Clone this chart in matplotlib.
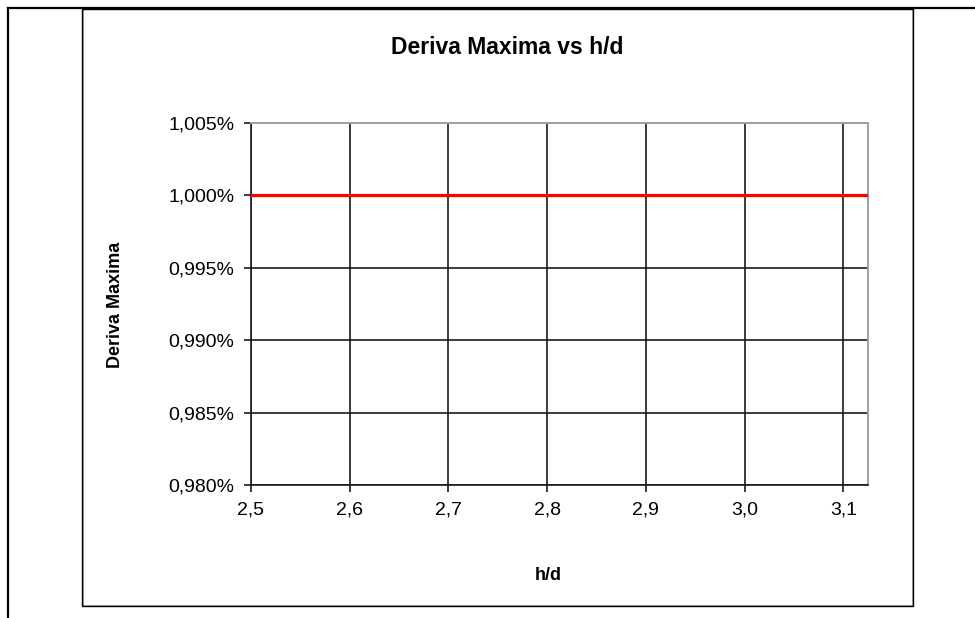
import matplotlib
matplotlib.use("Agg")
import matplotlib.pyplot as plt
from matplotlib.patches import Rectangle
from matplotlib.lines import Line2D
from matplotlib.ticker import FuncFormatter

plt.rcParams['font.family'] = ['Liberation Sans', 'DejaVu Sans']

## DATA
hd = [2.5, 2.6, 2.7, 2.8, 2.9, 3.0, 3.1, 3.125]
deriva = [1.000, 1.000, 1.000, 1.000, 1.000, 1.000, 1.000, 1.000]
x_ticks = [2.5, 2.6, 2.7, 2.8, 2.9, 3.0, 3.1]
y_ticks = [0.980, 0.985, 0.990, 0.995, 1.000, 1.005]

W, H = 975, 618
fig = plt.figure(figsize=(W / 100, H / 100), dpi=100)

# spreadsheet cell borders
fig.add_artist(Line2D([8 / W, 1], [1 - 8 / H, 1 - 8 / H], color='black', lw=1.6))
fig.add_artist(Line2D([8 / W, 8 / W], [0, 1 - 8 / H], color='black', lw=1.6))

# chart box with grey shadow
fig.add_artist(Rectangle((83 / W, 1 - 606 / H), (913 - 83) / W, (606 - 9) / H,
                         fill=False, edgecolor='#a0a0a0', lw=1.2))
fig.add_artist(Rectangle((82 / W, 1 - 606 / H), (913 - 82) / W, (606 - 9) / H,
                         fill=False, edgecolor='black', lw=1.0))

ax = fig.add_axes([251 / W, 1 - 485 / H, (868 - 251) / W, (485 - 123) / H])
ax.plot(hd, deriva, color='#ff0000', lw=2.3, zorder=3)

ax.set_xlim(2.5, 3.125)
ax.set_ylim(0.980, 1.005)
ax.set_xticks(x_ticks)
ax.set_yticks(y_ticks)
ax.xaxis.set_major_formatter(FuncFormatter(lambda v, p: ('%.1f' % v).replace('.', ',')))
ax.yaxis.set_major_formatter(FuncFormatter(lambda v, p: ('%.3f%%' % v).replace('.', ',')))
ax.grid(True, color='#1a1a1a', lw=1.2)
ax.set_axisbelow(True)
ax.tick_params(direction='out', length=5, width=1.2, color='#1a1a1a', labelsize=14, pad=7)

for s in ['left', 'bottom']:
    ax.spines[s].set_color('#1a1a1a')
    ax.spines[s].set_linewidth(1.2)
for s in ['top', 'right']:
    ax.spines[s].set_color('#a0a0a0')
    ax.spines[s].set_linewidth(1.4)

fig.text(507 / W, 1 - 47 / H, 'Deriva Maxima vs h/d', ha='center', va='center',
         fontsize=16.5, fontweight='bold')
fig.text(548 / W, 1 - 576 / H, 'h/d', ha='center', va='center', fontsize=13, fontweight='bold')
fig.text(116 / W, 1 - 305 / H, 'Deriva Maxima', ha='center', va='center', rotation=90,
         fontsize=13, fontweight='bold')

plt.savefig('out.png', dpi=100)
